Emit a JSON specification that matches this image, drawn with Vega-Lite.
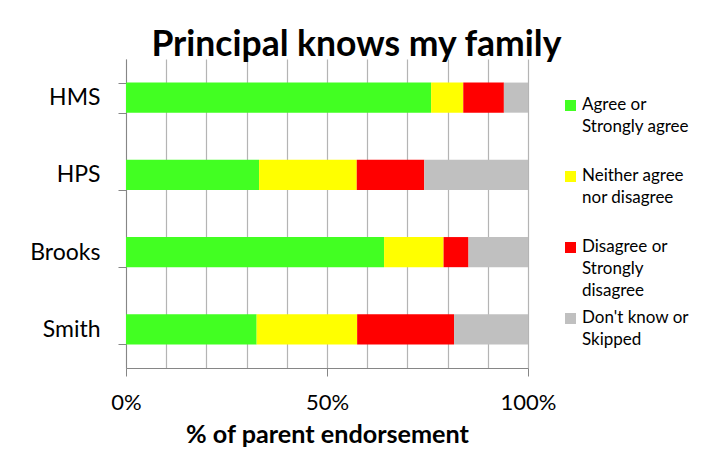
{
  "$schema": "https://vega.github.io/schema/vega-lite/v6.json",
  "width": 402,
  "height": 309,
  "autosize": {"type": "none"},
  "padding": {"left": 126, "top": 59, "right": 177, "bottom": 86},
  "background": "white",
  "config": {
    "font": "Lato",
    "view": {"stroke": null}
  },
  "title": {
    "text": "Principal knows my family",
    "font": "Lato",
    "fontSize": 35.5,
    "fontWeight": "bold",
    "color": "black",
    "anchor": "middle",
    "frame": "bounds",
    "baseline": "alphabetic",
    "offset": -43,
    "dx": -3
  },
  "data": {
    "values": [
      {"school": "HMS", "response": "Agree or Strongly agree", "k": 1, "pct": 0.759},
      {"school": "HMS", "response": "Neither agree nor disagree", "k": 2, "pct": 0.080},
      {"school": "HMS", "response": "Disagree or Strongly disagree", "k": 3, "pct": 0.101},
      {"school": "HMS", "response": "Don't know or Skipped", "k": 4, "pct": 0.060},
      {"school": "HPS", "response": "Agree or Strongly agree", "k": 1, "pct": 0.331},
      {"school": "HPS", "response": "Neither agree nor disagree", "k": 2, "pct": 0.243},
      {"school": "HPS", "response": "Disagree or Strongly disagree", "k": 3, "pct": 0.168},
      {"school": "HPS", "response": "Don't know or Skipped", "k": 4, "pct": 0.258},
      {"school": "Brooks", "response": "Agree or Strongly agree", "k": 1, "pct": 0.642},
      {"school": "Brooks", "response": "Neither agree nor disagree", "k": 2, "pct": 0.148},
      {"school": "Brooks", "response": "Disagree or Strongly disagree", "k": 3, "pct": 0.062},
      {"school": "Brooks", "response": "Don't know or Skipped", "k": 4, "pct": 0.148},
      {"school": "Smith", "response": "Agree or Strongly agree", "k": 1, "pct": 0.325},
      {"school": "Smith", "response": "Neither agree nor disagree", "k": 2, "pct": 0.250},
      {"school": "Smith", "response": "Disagree or Strongly disagree", "k": 3, "pct": 0.241},
      {"school": "Smith", "response": "Don't know or Skipped", "k": 4, "pct": 0.184}
    ]
  },
  "mark": {"type": "bar"},
  "encoding": {
    "y": {
      "field": "school",
      "type": "nominal",
      "sort": ["HMS", "HPS", "Brooks", "Smith"],
      "scale": {"paddingInner": 0.61, "paddingOuter": 0.305},
      "axis": {
        "title": null,
        "tickBand": "extent",
        "domainColor": "#868686",
        "tickColor": "#868686",
        "tickSize": 8,
        "labelPadding": 18,
        "labelFontSize": 23,
        "labelColor": "black",
        "labelFont": "Lato",
        "grid": false
      }
    },
    "x": {
      "field": "pct",
      "type": "quantitative",
      "stack": "zero",
      "scale": {"domain": [0, 1], "nice": false},
      "axis": {
        "values": [0, 0.1, 0.2, 0.3, 0.4, 0.5, 0.6, 0.7, 0.8, 0.9, 1],
        "format": ".0%",
        "labelExpr": "abs(datum.value*2 - round(datum.value*2)) < 0.001 ? datum.label : ''",
        "tickOpacity": {"expr": "abs(datum.value*2 - round(datum.value*2)) < 0.001 ? 1 : 0"},
        "tickSize": 8,
        "tickColor": "#868686",
        "domainColor": "#868686",
        "gridColor": "#b4b4b4",
        "gridWidth": 1.2,
        "labelFontSize": 22,
        "labelColor": "black",
        "labelPadding": 16,
        "labelFlush": false,
        "title": "% of parent endorsement",
        "titleFontSize": 25.2,
        "titleFontWeight": "bold",
        "titleColor": "black",
        "titlePadding": 9
      }
    },
    "color": {
      "field": "response",
      "type": "nominal",
      "scale": {
        "domain": ["Agree or Strongly agree", "Neither agree nor disagree", "Disagree or Strongly disagree", "Don't know or Skipped"],
        "range": ["#42ff22", "#ffff00", "#ff0000", "#c0c0c0"]
      },
      "legend": {
        "title": null,
        "orient": "none",
        "legendX": 436,
        "legendY": 38,
        "columns": 1,
        "rowPadding": 9,
        "symbolType": "square",
        "symbolSize": 121,
        "symbolStrokeWidth": 0,
        "symbolOpacity": 1,
        "labelFontSize": 17,
        "labelColor": "black",
        "labelBaseline": "top",
        "labelOffset": 3,
        "labelLimit": 200,
        "encode": {"labels": {"update": {"lineHeight": {"value": 22}, "dy": {"value": -9}}}},
        "labelExpr": "datum.label == 'Agree or Strongly agree' ? ['Agree or', 'Strongly agree', ''] : datum.label == 'Neither agree nor disagree' ? ['Neither agree', 'nor disagree', ''] : datum.label == 'Disagree or Strongly disagree' ? ['Disagree or', 'Strongly', 'disagree'] : ['Don\\'t know or', 'Skipped', '']"
      }
    },
    "order": {"field": "k", "type": "quantitative"}
  }
}
